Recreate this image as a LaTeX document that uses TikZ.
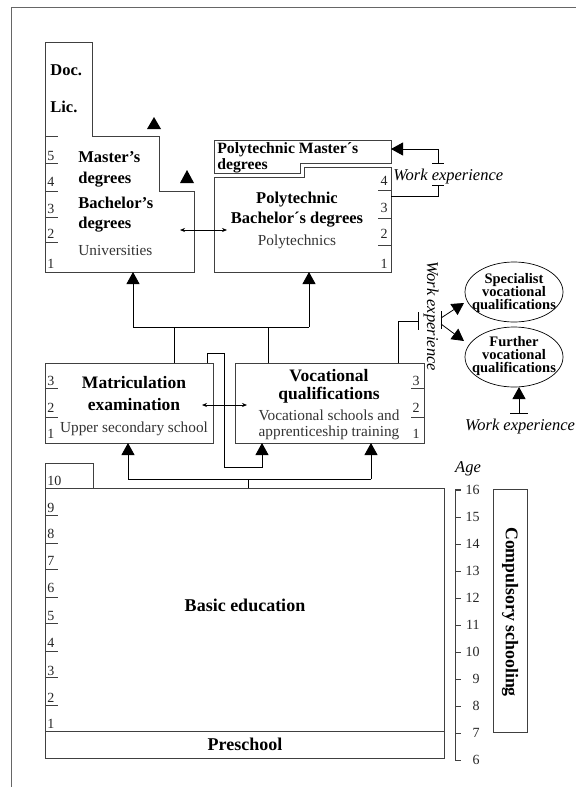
\documentclass[tikz,border=0pt]{standalone}
\usepackage{fontspec}
\setmainfont{Liberation Serif}
\usetikzlibrary{arrows.meta,shapes,positioning,calc}

\tikzset{
  box/.style={draw=black!75,line width=1pt,inner sep=0pt},
  big/.style={font=\fontsize{16.5}{18}\selectfont\bfseries,inner sep=0pt},
  bigger/.style={font=\fontsize{17.5}{18}\selectfont\bfseries,inner sep=0pt},
  sub/.style={font=\fontsize{15.3}{18}\selectfont,text=black!80,inner sep=0pt},
  num/.style={font=\fontsize{14}{16}\selectfont,text=black!85,inner sep=0pt},
  work/.style={font=\fontsize{16.5}{18}\selectfont\itshape,inner sep=0pt},
  oval/.style={font=\fontsize{14.5}{14}\selectfont\bfseries,inner sep=0pt},
  tick/.style={draw=black!75,line width=0.9pt},
  up/.style={-{Triangle[width=13pt,length=12pt]}},
  both/.style={{Stealth[length=5pt,width=4pt]}-{Stealth[length=5pt,width=4pt]},line width=0.7pt},
}

\begin{document}
\begin{tikzpicture}[x=1pt,y=-1pt,line width=0.8pt]
\useasboundingbox (0,0) rectangle (576,787);
\draw[black!60] (11,787) -- (11,7) -- (576,7);

% Universities
\draw[box] (45,272) -- (45,42) -- (92,42) -- (92,136) -- (159,136) -- (159,191) -- (194,191) -- (194,272) -- cycle;
\coordinate (uni) at (133,272);
\node[big,anchor=base west] (doc) at (50,75) {Doc.};
\node[big,anchor=base west] (lic) at (50,112) {Lic.};
\node[big,anchor=base west] (mast1) at (78,162) {Master's};
\node[big,anchor=base west] (mast2) at (78,183) {degrees};
\node[big,anchor=base west] (bach1) at (78,208) {Bachelor's};
\node[big,anchor=base west] (bach2) at (78,228) {degrees};
\node[sub,anchor=base west] (univ) at (78,255) {Universities};
\fill (147,129) -- (154,117) -- (161,129) -- cycle;
\fill (180,183) -- (187,170) -- (194,183) -- cycle;
\foreach \y in {136,163,191,217,242} \draw[tick] (45,\y) -- (58,\y);
\foreach \n/\y in {5/160,4/186,3/213,2/238,1/268} \node[num,anchor=base west] (u\n) at (47,\y) {\n};

% Polytechnics
\draw[box] (214,140) -- (391,140) -- (391,163) -- (300,163) -- (300,173) -- (214,173) -- cycle;
\draw[box] (214,177) -- (304,177) -- (304,167) -- (391,167) -- (391,272) -- (214,272) -- cycle;
\coordinate (poly) at (309,272);
\coordinate (pm) at (391,149);
\coordinate (pb) at (391,196);
\node[big,anchor=north west,align=left,font=\fontsize{15.7}{13}\selectfont\bfseries] (pmast) at (217,142.5) {Polytechnic Master´s\\degrees};
\node[big,anchor=base] (pbach1) at (297,203) {Polytechnic};
\node[big,anchor=base] (pbach2) at (297,223) {Bachelor´s degrees};
\node[sub,anchor=base] (polyt) at (297,245) {Polytechnics};
\foreach \y in {190,218,245} \draw[tick] (378,\y) -- (391,\y);
\foreach \n/\y in {4/185,3/212,2/238,1/268} \node[num,anchor=base east] (p\n) at (388,\y) {\n};
\draw[both] (180,230) -- (227,230);

% Work experience to master
\coordinate (wt) at (438,163);
\coordinate (wb) at (438,185);
\draw[up] (wt) |- (pm);
\draw (pb) -| (wb);
\draw (432,163) -- (444,163);
\draw (432,185) -- (444,185);
\node[work,anchor=base west] (wep) at (393,180) {Work experience};

% Routes up from upper secondary
\coordinate (j1) at (133,327);
\coordinate (j2) at (309,327);
\draw[up] (j1) -- (uni);
\draw[up] (j2) -- (poly);
\draw (j1) -- (j2);
\draw (174,327) -- (174,363);
\draw (268,327) -- (268,363);

% Upper secondary
\node[box,minimum width=168pt,minimum height=80pt] (matric) at (129,403) {};
\node[box,minimum width=189pt,minimum height=80pt] (voc) at (329.5,403) {};
\node[bigger,anchor=base] (mat1) at (134,388) {Matriculation};
\node[bigger,anchor=base] (mat2) at (134,410) {examination};
\node[sub,anchor=base] (mat3) at (134,432) {Upper secondary school};
\node[bigger,anchor=base] (voc1) at (329,381.5) {Vocational};
\node[bigger,anchor=base] (voc2) at (329,399) {qualifications};
\node[sub,anchor=base] (voc3) at (329,420) {Vocational schools and};
\node[sub,anchor=base] (voc4) at (329,436) {apprenticeship training};
\foreach \y in {388,417} {
  \draw[tick] (45,\y) -- (58,\y);
  \draw[tick] (411,\y) -- (424,\y);
}
\foreach \n/\y in {3/385,2/412,1/438} {
  \node[num,anchor=base west] (m\n) at (47,\y) {\n};
  \node[num,anchor=base east] (v\n) at (420,\y) {\n};
}
\draw[both] (202,405) -- (247,405);
\draw[up] (207,363) -- (207,353) -- (224,353) -- (224,467) -- (262,467) -- (262,443);

% Work experience to further qualifications
\node[draw,ellipse,minimum width=98pt,minimum height=60pt,line width=0.7pt] (spec) at (514,292) {};
\node[draw,ellipse,minimum width=98pt,minimum height=60pt,line width=0.7pt] (furth) at (514,357) {};
\node[oval,anchor=base] (spec1) at (514,283) {Specialist};
\node[oval,anchor=base] (spec2) at (514,296) {vocational};
\node[oval,anchor=base] (spec3) at (514,309) {qualifications};
\node[oval,anchor=base] (furth1) at (514,346) {Further};
\node[oval,anchor=base] (furth2) at (514,359) {vocational};
\node[oval,anchor=base] (furth3) at (514,372) {qualifications};
\draw (398,363) |- (418,321);
\draw (418,312) -- (418,330);
\node[work,rotate=-90] (wev) at (431,316) {Work experience};
\draw (441,311) -- (441,329);
\draw[up] (441,318) -- (464,303);
\draw[up] (441,324) -- (464,341);
\coordinate (wf) at (519,413);
\draw[up] (wf) -- (519,387);
\draw (510,413) -- (528,413);
\node[work,anchor=base] (wef) at (520,430) {Work experience};

% Basic education
\coordinate (b) at (248,488);
\draw (b) -- (248,479);
\draw (128,479) -- (371,479);
\draw[up] (128,479) -- (128,443);
\draw[up] (371,479) -- (371,443);
\node[box,minimum width=48pt,minimum height=25pt] (ten) at (69,475.5) {};
\node[box,minimum width=399pt,minimum height=243pt] (basic) at (244.5,609.5) {};
\node[box,minimum width=399pt,minimum height=27pt] (pre) at (244.5,744.5) {};
\node[num,anchor=base west] (n10) at (47,485) {10};
\node[big,font=\fontsize{18}{18}\selectfont\bfseries] (basict) at (245,605) {Basic education};
\node[big,font=\fontsize{18}{18}\selectfont\bfseries] (pret) at (245,744.5) {Preschool};
\foreach \y in {515,543,569,597,623,651,677,705} \draw[tick] (45,\y) -- (58,\y);
\foreach \n/\y in {9/512,8/538,7/565,6/592,5/620,4/647,3/675,2/702,1/728} \node[num,anchor=base west] (b\n) at (47,\y) {\n};

% Age scale
\node[work] (age) at (468,469) {Age};
\draw[tick] (461,489) -- (455,489) -- (455,760) -- (461,760);
\foreach \a in {6,...,16} {
  \draw[tick] (455,{490+(16-\a)*27}) -- (461,{490+(16-\a)*27});
  \node[num,anchor=east] (a\a) at (480,{490+(16-\a)*27}) {\a};
}
\node[box,minimum width=34pt,minimum height=243pt] (comp) at (510,610.5) {};
\node[big,rotate=-90,font=\fontsize{17.8}{18}\selectfont\bfseries] (compt) at (510,612) {Compulsory schooling};
\end{tikzpicture}
\end{document}
